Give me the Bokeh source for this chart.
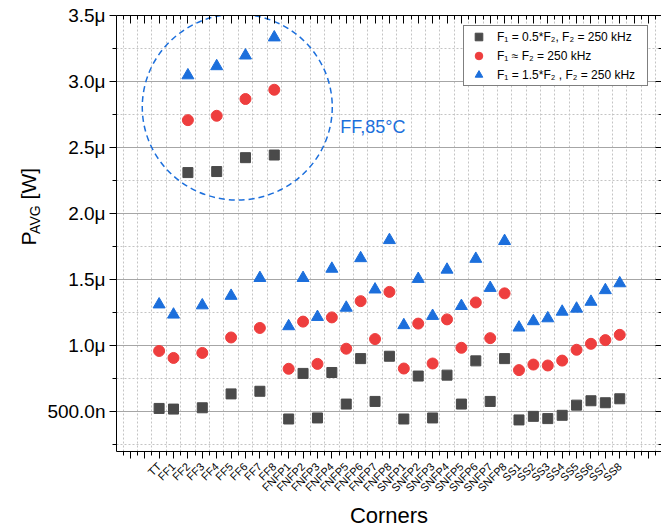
import math

from bokeh.plotting import figure
from bokeh.layouts import row
from bokeh.core.properties import value
from bokeh.models import (Range1d, FixedTicker, LinearAxis, CustomJSTickFormatter,
                          Label, Legend, LegendItem)
from bokeh.embed import file_html
from bokeh.resources import INLINE

# Process corners on the x axis
corners = ["TT",
           "FF1", "FF2", "FF3", "FF4", "FF5", "FF6", "FF7", "FF8",
           "FNFP1", "FNFP2", "FNFP3", "FNFP4", "FNFP5", "FNFP6", "FNFP7", "FNFP8",
           "SNFP1", "SNFP2", "SNFP3", "SNFP4", "SNFP5", "SNFP6", "SNFP7", "SNFP8",
           "SS1", "SS2", "SS3", "SS4", "SS5", "SS6", "SS7", "SS8"]

# Average power in microwatts for each frequency setting
p_half = [0.526,
          0.521, 2.311, 0.531, 2.319, 0.636, 2.424, 0.656, 2.444,
          0.446, 0.791, 0.454, 0.798, 0.559, 0.903, 0.579, 0.921,
          0.446, 0.771, 0.454, 0.778, 0.559, 0.886, 0.579, 0.903,
          0.439, 0.466, 0.449, 0.474, 0.551, 0.584, 0.569, 0.599]
p_equal = [0.961,
           0.908, 2.708, 0.946, 2.741, 1.063, 2.868, 1.135, 2.938,
           0.826, 1.183, 0.863, 1.215, 0.978, 1.338, 1.051, 1.408,
           0.828, 1.168, 0.866, 1.200, 0.985, 1.328, 1.058, 1.397,
           0.816, 0.858, 0.851, 0.888, 0.970, 1.015, 1.043, 1.083]
p_one_half = [1.313,
              1.236, 3.047, 1.306, 3.116, 1.378, 3.197, 1.513, 3.334,
              1.148, 1.513, 1.218, 1.583, 1.288, 1.663, 1.426, 1.800,
              1.156, 1.506, 1.226, 1.576, 1.301, 1.658, 1.438, 1.793,
              1.138, 1.186, 1.208, 1.258, 1.281, 1.333, 1.421, 1.473]

series_labels = ["F\u2081 = 0.5*F\u2082, F\u2082 = 250 kHz",
                 "F\u2081 \u2248 F\u2082 = 250 kHz",
                 "F\u2081 = 1.5*F\u2082 , F\u2082 = 250 kHz"]

y_major = [0.5, 1.0, 1.5, 2.0, 2.5, 3.0, 3.5]
y_minor = [0.25, 0.75, 1.25, 1.75, 2.25, 2.75, 3.25]

# y-axis title pieces: symbol, subscript, unit
title_parts = ["P", "AVG", "[W]"]
title_sizes = ["21px", "14px", "21px"]

# Highlight ring around the FF corners at 85 °C
ring_x, ring_y = 5.43, 2.807
ring_text_x, ring_text_y = 12.58, 2.659
ring_text = "FF,85°C"

FONT = "Liberation Sans"
GRAY = "#4a4a4a"
RED = "#ee3e3e"
BLUE = "#1c6fdc"

TITLE_W = 44
H = 531
x_start, x_end = -2.96, 34.9
y_start, y_end = 0.2, 3.5

p = figure(width=661 - TITLE_W, height=H, x_range=Range1d(x_start, x_end),
           y_range=Range1d(y_start, y_end), output_backend="svg",
           toolbar_location=None, min_border_left=115 - TITLE_W, min_border_right=0,
           min_border_top=15, min_border_bottom=75)
p.outline_line_color = None
p.background_fill_color = "white"

x_ticks = list(range(-2, 35))
x_minor = [t + 0.5 for t in range(-3, 35)]
x_ticker = FixedTicker(ticks=x_ticks, minor_ticks=x_minor)
y_ticker = FixedTicker(ticks=y_major, minor_ticks=y_minor)

x_fmt = CustomJSTickFormatter(args=dict(names=corners), code="""
    const i = Math.round(tick);
    return (Math.abs(tick - i) < 1e-6 && i >= 0 && i < names.length) ? names[i] : "";
""")
y_fmt = CustomJSTickFormatter(code="""
    return tick < 1 ? (tick * 1000).toFixed(1) + "n" : tick.toFixed(1) + "\u03bc";
""")

# bottom axis
xa = p.xaxis[0]
xa.ticker = x_ticker
xa.formatter = x_fmt
xa.major_label_orientation = math.pi / 4
xa.major_label_text_font = FONT
xa.major_label_text_font_size = "11px"
xa.major_label_text_color = "black"
xa.major_label_standoff = 6
xa.major_tick_out = 7
xa.major_tick_in = 0
xa.minor_tick_out = 4
xa.minor_tick_in = 0
xa.axis_line_color = "black"
xa.major_tick_line_color = "black"
xa.minor_tick_line_color = "black"
xa.axis_label = "Corners"
xa.axis_label_text_font = FONT
xa.axis_label_text_font_size = "22px"
xa.axis_label_text_font_style = "normal"
xa.axis_label_text_color = "black"
xa.axis_label_standoff = 2

# left axis
ya = p.yaxis[0]
ya.ticker = y_ticker
ya.formatter = y_fmt
ya.major_label_text_font = FONT
ya.major_label_text_font_size = "19px"
ya.major_label_text_color = "black"
ya.major_label_standoff = 4
ya.major_tick_out = 7
ya.major_tick_in = 0
ya.minor_tick_out = 4
ya.minor_tick_in = 0
ya.axis_line_color = "black"
ya.major_tick_line_color = "black"
ya.minor_tick_line_color = "black"

# mirrored axes with inward ticks and no labels
top_axis = LinearAxis(ticker=x_ticker, major_tick_in=8, major_tick_out=0,
                      minor_tick_in=4, minor_tick_out=0,
                      major_label_text_font_size="1px", major_label_text_color=None,
                      major_label_standoff=0,
                      axis_line_color="black", major_tick_line_color="black",
                      minor_tick_line_color="black")
p.add_layout(top_axis, "above")
right_axis = LinearAxis(ticker=y_ticker, major_tick_in=6, major_tick_out=0,
                        minor_tick_in=3, minor_tick_out=0,
                        major_label_text_font_size="1px", major_label_text_color=None,
                        major_label_standoff=0,
                        axis_line_color=None, major_tick_line_color="black",
                        minor_tick_line_color="black")
p.add_layout(right_axis, "right")

# grid
p.xgrid.grid_line_color = None
p.xgrid.minor_grid_line_color = "#c4c4c4"
p.xgrid.minor_grid_line_dash = "2 2"
p.ygrid.grid_line_color = "#a6a6a6"
p.ygrid.grid_line_width = 1
p.ygrid.minor_grid_line_color = "#c4c4c4"
p.ygrid.minor_grid_line_dash = "2 2"

# ring and its caption
p.ellipse(x=[ring_x], y=[ring_y], width=190, height=186,
          width_units="screen", height_units="screen",
          fill_color=None, line_color=BLUE, line_width=1.5, line_dash="6 4")
p.add_layout(Label(x=ring_text_x, y=ring_text_y, text=ring_text,
                   text_font=FONT, text_font_size="18px", text_color=BLUE,
                   text_align="left", text_baseline="alphabetic"))

xs = list(range(len(corners)))
r_sq = p.scatter(xs, p_half, marker="square", size=10,
                 fill_color=GRAY, line_color=GRAY)
r_ci = p.scatter(xs, p_equal, marker="circle", size=11,
                 fill_color=RED, line_color=RED)
r_tr = p.scatter(xs, p_one_half, marker="triangle", size=12,
                 fill_color=BLUE, line_color=BLUE)

legend = Legend(items=[LegendItem(label=series_labels[0], renderers=[r_sq]),
                       LegendItem(label=series_labels[1], renderers=[r_ci]),
                       LegendItem(label=series_labels[2], renderers=[r_tr])],
                location=(347, 365), orientation="vertical",
                border_line_color="black", border_line_width=1,
                background_fill_color="white", background_fill_alpha=1.0,
                label_text_font=FONT, label_text_font_size="12px",
                label_text_color="black", label_text_baseline="middle",
                glyph_width=29, glyph_height=19, label_height=14, label_width=142,
                spacing=0, padding=(0, 8, 1, 1), margin=0, label_standoff=4)
p.add_layout(legend)

# narrow strip holding the rotated y-axis title
tf = figure(width=TITLE_W, height=H, x_range=Range1d(0, TITLE_W),
            y_range=Range1d(0, H), output_backend="svg", toolbar_location=None,
            min_border=0, x_axis_type=None, y_axis_type=None)
tf.outline_line_color = None
tf.xgrid.visible = False
tf.ygrid.visible = False
# baseline columns and starting rows, measured from the top of the page
title_x = [28, 34, 28]
title_row = [280, 266, 224]
tf.text(x=title_x, y=[H - r for r in title_row], text=title_parts,
        angle=math.pi / 2, text_font=value(FONT), text_font_size=title_sizes,
        text_color="black", text_align="left", text_baseline="alphabetic")

layout = row(tf, p)
open("out.html", "w").write(file_html(layout, INLINE))
